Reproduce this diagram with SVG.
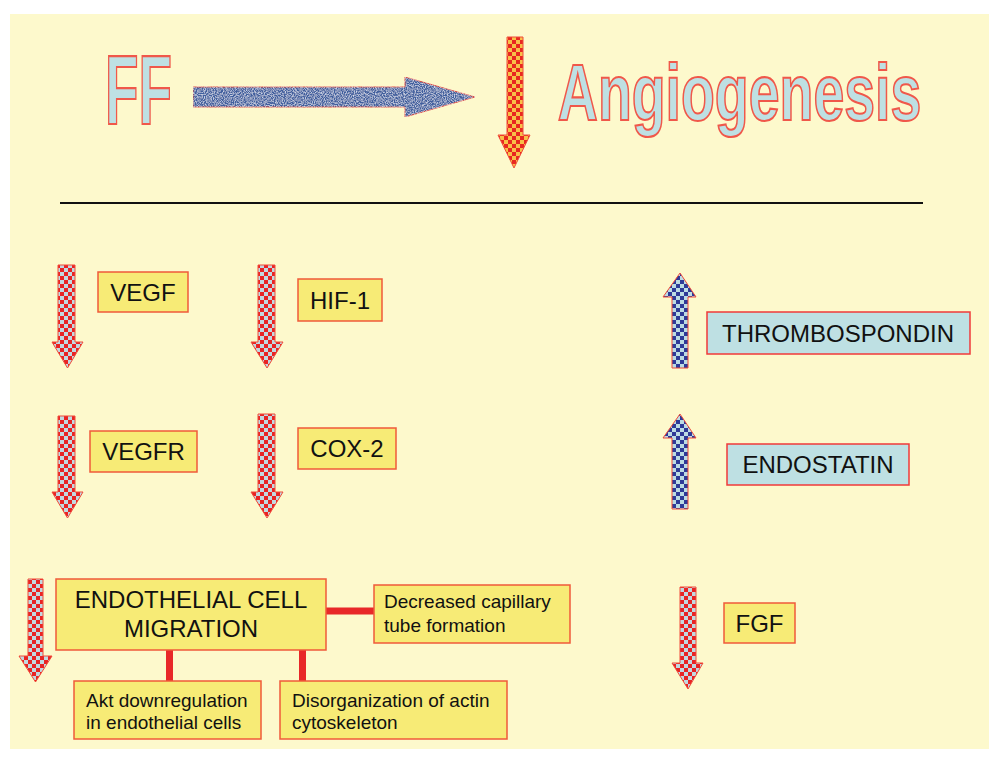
<svg xmlns="http://www.w3.org/2000/svg" width="1000" height="761" viewBox="0 0 1000 761">
<style>
.lbl{font-family:"Liberation Sans",Arial,sans-serif;fill:#111;}
.big{font-size:24px;text-anchor:middle;}
.sm{font-size:19px;}
.ybox{fill:#F7EB76;stroke:#F05A3A;stroke-width:1.5;}
.bbox{fill:#BEE0E3;stroke:#F03A3A;stroke-width:1.5;}
.arrRB{fill:url(#checkRB);stroke:#F04A3A;stroke-width:1;}
.arrBB{fill:url(#checkBB);stroke:#F04A3A;stroke-width:1;}
.title{font-family:"Liberation Sans",Arial,sans-serif;font-weight:bold;fill:#BEE0E3;stroke:#F0584A;stroke-width:1.8;vector-effect:non-scaling-stroke;}
.conn{stroke:#E82828;stroke-width:7;fill:none;}
</style>
<defs>
<pattern id="checkRB" width="8" height="8" patternUnits="userSpaceOnUse">
<rect width="8" height="8" fill="#C2D8E0"/>
<rect width="4" height="4" fill="#E82424"/>
<rect x="4" y="4" width="4" height="4" fill="#E82424"/>
</pattern>
<pattern id="checkRO" width="8" height="8" patternUnits="userSpaceOnUse">
<rect width="8" height="8" fill="#F8C048"/>
<rect width="4" height="4" fill="#E82820"/>
<rect x="4" y="4" width="4" height="4" fill="#E82820"/>
</pattern>
<pattern id="checkBB" width="8" height="8" patternUnits="userSpaceOnUse">
<rect width="8" height="8" fill="#BCDCE4"/>
<rect width="4" height="4" fill="#2E3A98"/>
<rect x="4" y="4" width="4" height="4" fill="#2E3A98"/>
</pattern>
<filter id="tex" x="0" y="0" width="1" height="1">
<feTurbulence type="fractalNoise" baseFrequency="0.9" numOctaves="2" seed="3" result="n"/>
<feColorMatrix in="n" type="matrix" values="0 0 0 0 0.85  0 0 0 0 0.9  0 0 0 0 1  0 0 0 1.6 -0.6" result="w"/>
<feComposite in="w" in2="SourceGraphic" operator="in" result="wi"/>
<feMerge><feMergeNode in="SourceGraphic"/><feMergeNode in="wi"/></feMerge>
</filter>
</defs>
<rect x="0" y="0" width="1000" height="761" fill="#FFFFFF"/>
<rect x="10" y="14" width="979" height="735" fill="#FDF9CC"/>

<g id="title-ff">
<text class="title" transform="scale(0.554,1)" x="189.5" y="124" font-size="99">FF</text>
</g>
<g id="title-arrow">
<polygon points="193,87 405,87 405,77 475,97 405,117 405,107 193,107" fill="#3F5E9E" stroke="#E04A40" stroke-width="1" filter="url(#tex)"/>
</g>
<g id="title-down">
<polygon points="507,37 523,37 523,135 530,135 514,168 498,135 507,135" fill="url(#checkRO)" stroke="#F04A3A" stroke-width="1"/>
</g>
<g id="title-angio">
<text class="title" transform="scale(0.693,1)" x="805" y="120" font-size="80">Angiogenesis</text>
</g>
<line x1="60" y1="203" x2="923" y2="203" stroke="#111" stroke-width="2"/>

<g id="vegf">
<polygon class="arrRB" points="58,265 75,265 75,342 83,342 67.5,368 52,342 58,342"/>
<rect class="ybox" x="98" y="272" width="90" height="40"/>
<text class="lbl big" x="143" y="300.5">VEGF</text>
</g>
<g id="hif1">
<polygon class="arrRB" points="258,265 275,265 275,342 283,342 267,368 251,342 258,342"/>
<rect class="ybox" x="298" y="279" width="84" height="42"/>
<text class="lbl big" x="340" y="308.5">HIF-1</text>
</g>
<g id="vegfr">
<polygon class="arrRB" points="58,416 75,416 75,492 83,492 67.5,518 52,492 58,492"/>
<rect class="ybox" x="90" y="431" width="107" height="41"/>
<text class="lbl big" x="143.5" y="460">VEGFR</text>
</g>
<g id="cox2">
<polygon class="arrRB" points="258,414 275,414 275,492 283,492 267,518 251,492 258,492"/>
<rect class="ybox" x="298" y="428" width="98" height="41"/>
<text class="lbl big" x="347" y="457">COX-2</text>
</g>
<g id="thrombospondin">
<polygon class="arrBB" points="680,273 696,297 688,297 688,368 672,368 672,297 663,297"/>
<rect class="bbox" x="707" y="312" width="263" height="42"/>
<text class="lbl big" x="838" y="341.5">THROMBOSPONDIN</text>
</g>
<g id="endostatin">
<polygon class="arrBB" points="680,414 696,438 688,438 688,509 672,509 672,438 663,438"/>
<rect class="bbox" x="727" y="444" width="182" height="41"/>
<text class="lbl big" x="818" y="473">ENDOSTATIN</text>
</g>
<g id="fgf">
<polygon class="arrRB" points="680,587 696,587 696,663 703,663 688,689 672,663 680,663"/>
<rect class="ybox" x="724" y="603" width="71" height="40"/>
<text class="lbl big" x="759.5" y="631.5">FGF</text>
</g>

<g id="connectors">
<line class="conn" x1="326" y1="611" x2="374" y2="611"/>
<line class="conn" x1="169.5" y1="650" x2="169.5" y2="681"/>
<line class="conn" x1="302.5" y1="650" x2="302.5" y2="681"/>
</g>

<g id="migration">
<polygon class="arrRB" points="28,579 43,579 43,656 52,656 35.5,682 19,656 28,656"/>
<rect class="ybox" x="56" y="579" width="270" height="71"/>
<text class="lbl big" x="191" y="608">ENDOTHELIAL CELL</text>
<text class="lbl big" x="191" y="637">MIGRATION</text>
</g>
<g id="capillary">
<rect class="ybox" x="374" y="585" width="196" height="58"/>
<text class="lbl sm" x="384" y="608">Decreased capillary</text>
<text class="lbl sm" x="384" y="632">tube formation</text>
</g>
<g id="akt">
<rect class="ybox" x="74" y="681" width="187" height="58"/>
<text class="lbl sm" x="86" y="707">Akt downregulation</text>
<text class="lbl sm" x="86" y="729">in endothelial cells</text>
</g>
<g id="actin">
<rect class="ybox" x="280" y="681" width="227" height="58"/>
<text class="lbl sm" x="292" y="707">Disorganization of actin</text>
<text class="lbl sm" x="292" y="729">cytoskeleton</text>
</g>
</svg>
